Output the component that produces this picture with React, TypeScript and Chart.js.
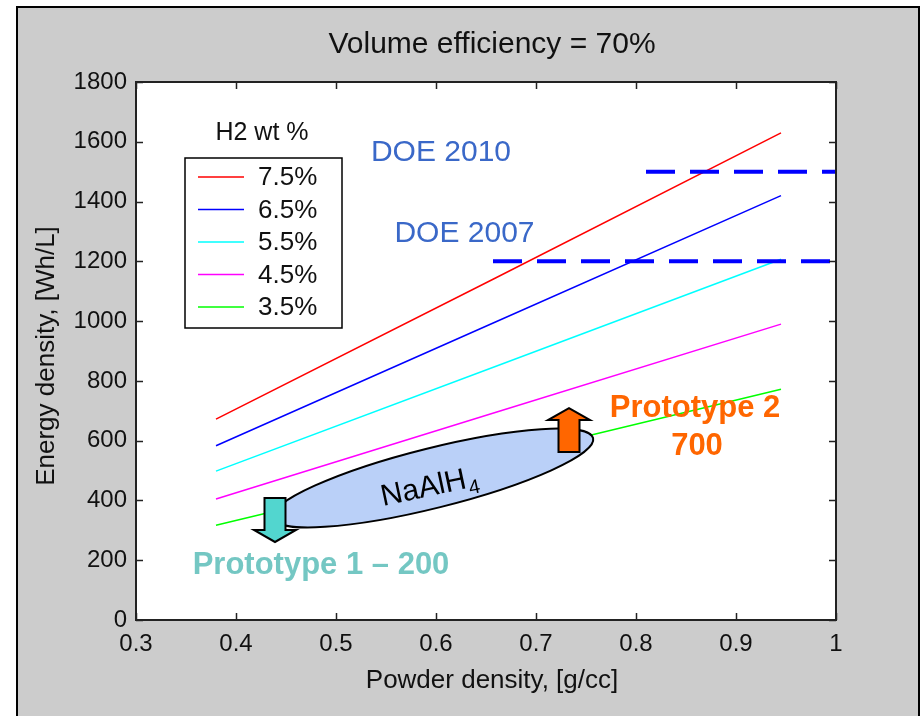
import React, { useEffect, useRef } from 'react';
import { Chart, registerables } from 'chart.js';

Chart.register(...registerables);

// ---- data ----
const powderDensity = [0.38, 0.66, 0.945];
const h2Labels = ['7.5%', '6.5%', '5.5%', '4.5%', '3.5%'];
const h2Colors = ['#ff0000', '#0000ff', '#00ffff', '#ff00ff', '#00ff00'];
const energy75 = [672, 1145, 1630];
const energy65 = [583, 998, 1420];
const energy55 = [498, 849, 1207];
const energy45 = [405, 695, 990];
const energy35 = [317, 542, 772];
const h2Series = [energy75, energy65, energy55, energy45, energy35];

const doe2010X = [0.81, 1.0];
const doe2010Y = 1500;
const doe2007X = [0.657, 1.0];
const doe2007Y = 1200;

const xTickValues = [0.3, 0.4, 0.5, 0.6, 0.7, 0.8, 0.9, 1.0];
const yTickValues = [0, 200, 400, 600, 800, 1000, 1200, 1400, 1600, 1800];

const FONT = "'Liberation Sans', Arial, Helvetica, sans-serif";

// annotation anchors (data coordinates)
const ellipseCenter = { x: 0.597, y: 475 };
const naalh4Center = { x: 0.593, y: 452 };
const cyanArrow = { x: 0.439, from: 408, to: 261 };
const orangeArrow = { x: 0.733, from: 562, to: 709 };
const doe2010Label = { x: 0.605, y: 1562, text: 'DOE 2010' };
const doe2007Label = { x: 0.6285, y: 1291, text: 'DOE 2007' };
const proto2Label = { x: 0.859, y: 709, text: 'Prototype 2' };
const proto2Value = { x: 0.861, y: 579, text: '700' };
const proto1Label = { x: 0.485, y: 181, text: 'Prototype 1 \u2013 200' };

function drawArrow(ctx: CanvasRenderingContext2D, x: number, yBase: number, yTip: number, color: string) {
  const dir = yTip > yBase ? 1 : -1;
  const bodyHalf = 10.5;
  const headHalf = 21;
  const headLen = 12;
  const yHead = yTip - dir * headLen;
  ctx.beginPath();
  ctx.moveTo(x - bodyHalf, yBase);
  ctx.lineTo(x + bodyHalf, yBase);
  ctx.lineTo(x + bodyHalf, yHead);
  ctx.lineTo(x + headHalf, yHead);
  ctx.lineTo(x, yTip);
  ctx.lineTo(x - headHalf, yHead);
  ctx.lineTo(x - bodyHalf, yHead);
  ctx.closePath();
  ctx.fillStyle = color;
  ctx.fill();
  ctx.strokeStyle = '#000';
  ctx.lineWidth = 2;
  ctx.lineJoin = 'miter';
  ctx.stroke();
}

const decorPlugin = {
  id: 'decor',
  beforeDraw(chart: any) {
    const ctx = chart.ctx as CanvasRenderingContext2D;
    const { width, height } = chart;
    const a = chart.chartArea;
    ctx.save();
    ctx.fillStyle = '#ffffff';
    ctx.fillRect(0, 0, width, height);
    ctx.fillStyle = '#cccccc';
    ctx.fillRect(17, 7, 902, height);
    ctx.strokeStyle = '#000';
    ctx.lineWidth = 2;
    ctx.strokeRect(17, 7, 902, height + 20);
    ctx.fillStyle = '#ffffff';
    ctx.fillRect(a.left, a.top, a.right - a.left, a.bottom - a.top);
    ctx.restore();
  },
  afterDatasetsDraw(chart: any) {
    const ctx = chart.ctx as CanvasRenderingContext2D;
    const xs = chart.scales.x;
    const ys = chart.scales.y;
    const px = (v: number) => xs.getPixelForValue(v);
    const py = (v: number) => ys.getPixelForValue(v);
    ctx.save();

    // ellipse
    ctx.beginPath();
    ctx.ellipse(px(ellipseCenter.x), py(ellipseCenter.y), 165, 30, (-14 * Math.PI) / 180, 0, Math.PI * 2);
    ctx.fillStyle = '#bad0f8';
    ctx.fill();
    ctx.strokeStyle = '#000';
    ctx.lineWidth = 2;
    ctx.stroke();

    // NaAlH4 text
    ctx.save();
    ctx.translate(px(naalh4Center.x), py(naalh4Center.y));
    ctx.rotate((-12 * Math.PI) / 180);
    ctx.fillStyle = '#000';
    ctx.textBaseline = 'alphabetic';
    ctx.textAlign = 'left';
    ctx.font = `30px ${FONT}`;
    const w1 = ctx.measureText('NaAlH').width;
    ctx.font = `20px ${FONT}`;
    const w2 = ctx.measureText('4').width;
    const start = -(w1 + w2 + 1) / 2;
    ctx.font = `30px ${FONT}`;
    ctx.fillText('NaAlH', start, 11);
    ctx.font = `20px ${FONT}`;
    ctx.fillText('4', start + w1 + 1, 18);
    ctx.restore();

    // arrows
    drawArrow(ctx, px(cyanArrow.x), py(cyanArrow.from), py(cyanArrow.to), '#52d6cf');
    drawArrow(ctx, px(orangeArrow.x), py(orangeArrow.from), py(orangeArrow.to), '#ff6600');

    // labels
    ctx.textAlign = 'center';
    ctx.textBaseline = 'middle';
    ctx.font = `30px ${FONT}`;
    ctx.fillStyle = '#3a68c8';
    ctx.fillText(doe2010Label.text, px(doe2010Label.x), py(doe2010Label.y));
    ctx.fillText(doe2007Label.text, px(doe2007Label.x), py(doe2007Label.y));

    ctx.font = `bold 31px ${FONT}`;
    ctx.fillStyle = '#ff6600';
    ctx.fillText(proto2Label.text, px(proto2Label.x), py(proto2Label.y));
    ctx.fillText(proto2Value.text, px(proto2Value.x), py(proto2Value.y));
    ctx.fillStyle = '#74c7c3';
    ctx.fillText(proto1Label.text, px(proto1Label.x), py(proto1Label.y));
    ctx.restore();
  },
  afterDraw(chart: any) {
    const ctx = chart.ctx as CanvasRenderingContext2D;
    const a = chart.chartArea;
    const xs = chart.scales.x;
    const ys = chart.scales.y;
    ctx.save();
    // frame
    ctx.strokeStyle = '#222';
    ctx.lineWidth = 2;
    ctx.strokeRect(a.left, a.top, a.right - a.left, a.bottom - a.top);
    // inward ticks
    ctx.lineWidth = 1.5;
    ctx.beginPath();
    const tl = 7;
    xTickValues.forEach((v) => {
      const x = Math.round(xs.getPixelForValue(v)) + 0.5;
      ctx.moveTo(x, a.bottom);
      ctx.lineTo(x, a.bottom - tl);
      ctx.moveTo(x, a.top);
      ctx.lineTo(x, a.top + tl);
    });
    yTickValues.forEach((v) => {
      const y = Math.round(ys.getPixelForValue(v)) + 0.5;
      ctx.moveTo(a.left, y);
      ctx.lineTo(a.left + tl, y);
      ctx.moveTo(a.right, y);
      ctx.lineTo(a.right - tl, y);
    });
    ctx.stroke();

    // titles
    ctx.fillStyle = '#111';
    ctx.textAlign = 'center';
    ctx.textBaseline = 'middle';
    ctx.font = `30px ${FONT}`;
    ctx.fillText('Volume efficiency = 70%', 492, 45);
    ctx.font = `26px ${FONT}`;
    ctx.fillText('Powder density, [g/cc]', 492, 681);
    ctx.save();
    ctx.translate(47, 356);
    ctx.rotate(-Math.PI / 2);
    ctx.fillText('Energy density, [Wh/L]', 0, 0);
    ctx.restore();

    // legend
    ctx.font = `25px ${FONT}`;
    ctx.fillText('H2 wt %', 262, 133);
    ctx.fillStyle = '#fff';
    ctx.fillRect(185, 158, 157, 170);
    ctx.strokeStyle = '#000';
    ctx.lineWidth = 1.5;
    ctx.strokeRect(185, 158, 157, 170);
    ctx.textAlign = 'left';
    ctx.font = `26px ${FONT}`;
    h2Labels.forEach((lab, i) => {
      const y = 177 + i * 32.5;
      ctx.strokeStyle = h2Colors[i];
      ctx.lineWidth = 1.5;
      ctx.beginPath();
      ctx.moveTo(198, y);
      ctx.lineTo(244, y);
      ctx.stroke();
      ctx.fillStyle = '#111';
      ctx.fillText(lab, 258, y + 1);
    });
    ctx.restore();
  },
};

export default function App() {
  const canvasRef = useRef<HTMLCanvasElement | null>(null);

  useEffect(() => {
    document.body.style.margin = '0';
    const canvas = canvasRef.current;
    if (!canvas) return;

    const seriesDatasets = h2Series.map((vals, i) => ({
      label: h2Labels[i],
      data: powderDensity.map((x, j) => ({ x, y: vals[j] })),
      borderColor: h2Colors[i],
      backgroundColor: h2Colors[i],
      borderWidth: 1.5,
      pointRadius: 0,
      showLine: true,
      fill: false,
      order: 1,
    }));
    const doeDatasets = [
      { label: 'DOE 2010', xs: doe2010X, y: doe2010Y },
      { label: 'DOE 2007', xs: doe2007X, y: doe2007Y },
    ].map((d) => ({
      label: d.label,
      data: d.xs.map((x) => ({ x, y: d.y })),
      borderColor: '#0000ff',
      backgroundColor: '#0000ff',
      borderWidth: 4,
      borderDash: [29, 15],
      pointRadius: 0,
      showLine: true,
      fill: false,
      order: 0,
      clip: 4,
    }));

    const chart = new Chart(canvas, {
      type: 'scatter',
      data: { datasets: [...seriesDatasets, ...doeDatasets] as any },
      plugins: [decorPlugin as any],
      options: {
        animation: false,
        responsive: false,
        maintainAspectRatio: false,
        layout: { padding: { top: 82, right: 84, bottom: 0, left: 0 } },
        plugins: { legend: { display: false }, tooltip: { enabled: false }, title: { display: false } },
        scales: {
          x: {
            type: 'linear',
            min: 0.3,
            max: 1.0,
            afterFit: (s: any) => { s.height = 96; },
            afterBuildTicks: (s: any) => { s.ticks = xTickValues.map((v) => ({ value: v })); },
            grid: { display: false, drawTicks: false },
            border: { display: false },
            ticks: {
              padding: 10,
              color: '#111',
              font: { family: FONT, size: 24 },
              maxRotation: 0,
              callback: (v: any) => String(Math.round(Number(v) * 10) / 10),
            },
          },
          y: {
            type: 'linear',
            min: 0,
            max: 1800,
            afterFit: (s: any) => { s.width = 136; },
            afterBuildTicks: (s: any) => { s.ticks = yTickValues.map((v) => ({ value: v })); },
            grid: { display: false, drawTicks: false },
            border: { display: false },
            ticks: {
              padding: 9,
              color: '#111',
              font: { family: FONT, size: 24 },
              callback: (v: any) => String(v),
            },
          },
        },
      },
    });
    return () => chart.destroy();
  }, []);

  return <canvas ref={canvasRef} width={920} height={716} style={{ display: 'block', width: 920, height: 716 }} />;
}
